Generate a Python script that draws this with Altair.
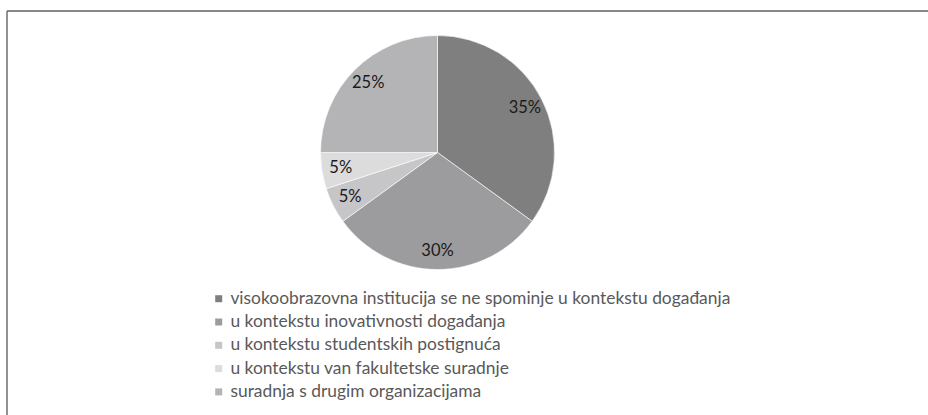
import altair as alt
import pandas as pd

categories = [
    "visokoobrazovna institucija se ne spominje u kontekstu događanja",
    "u kontekstu inovativnosti događanja",
    "u kontekstu studentskih postignuća",
    "u kontekstu van fakultetske suradnje",
    "suradnja s drugim organizacijama",
]
values = [35, 30, 5, 5, 25]
labels = ["35%", "30%", "5%", "5%", "25%"]
colors = ["#7f7f7f", "#9c9c9e", "#c6c6c8", "#dcdcdc", "#b4b4b6"]

df = pd.DataFrame({"cat": categories, "value": values, "label": labels, "idx": list(range(len(values)))})

CX, CY = 437.5, 152.5

base = alt.Chart(df).encode(
    theta=alt.Theta("value:Q", stack=True),
    order=alt.Order("idx:Q"),
)

pie = base.mark_arc(outerRadius=117, stroke="white", strokeWidth=0.6).encode(
    x=alt.value(CX),
    y=alt.value(CY),
    color=alt.Color(
        "cat:N",
        scale=alt.Scale(domain=categories, range=colors),
        legend=alt.Legend(
            title=None,
            orient="none",
            legendX=210,
            legendY=290,
            symbolType="square",
            symbolSize=49,
            symbolStrokeWidth=0,
            labelFont="Lato",
            labelFontSize=17.4,
            labelColor="#595959",
            rowPadding=4.3,
            labelLimit=0,
            labelOffset=3,
        ),
    ),
)

text = base.mark_text(radius=98, fontSize=16.5, font="Lato", color="#1a1a1a").encode(
    x=alt.value(CX),
    y=alt.value(CY),
    text="label:N",
)

frame = pd.DataFrame({"k": [0]})
top_rule = alt.Chart(frame).mark_rule(color="#111111", strokeWidth=1.2).encode(
    x=alt.value(7), x2=alt.value(928), y=alt.value(11)
)
left_rule = alt.Chart(frame).mark_rule(color="#777777", strokeWidth=1.6).encode(
    x=alt.value(7), y=alt.value(11), y2=alt.value(415)
)

chart = (
    alt.layer(pie, text, top_rule, left_rule)
    .properties(width=928, height=415, padding=0, autosize="none", background="white")
    .configure_view(stroke=None)
)

chart.save("out.html", embed_options={"renderer": "svg", "actions": False})
